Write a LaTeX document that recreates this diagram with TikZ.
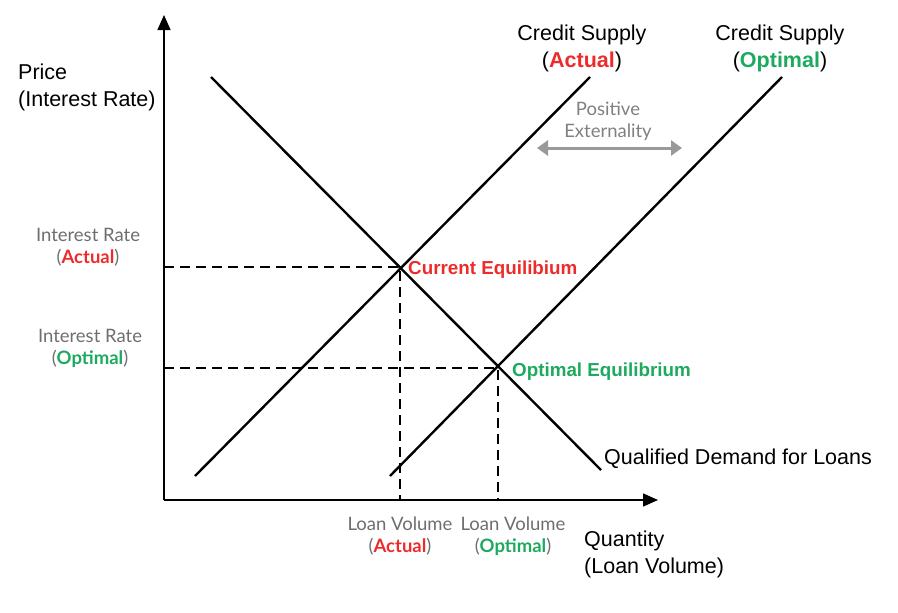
\documentclass[tikz,border=0pt]{standalone}
\usepackage{fontspec}
\setmainfont{Liberation Sans}
\newfontfamily\lato{Lato}
\usetikzlibrary{arrows.meta}
\definecolor{cred}{HTML}{EE2B2B}
\definecolor{cgreen}{HTML}{1DAA5F}
\definecolor{cgray}{HTML}{6E6E6E}
\tikzset{
 main/.style={font=\fontsize{21.5}{27}\selectfont, align=center, inner sep=0pt},
 small/.style={font=\lato\fontsize{18.5}{22}\selectfont, text=cgray, align=center, inner sep=0pt},
 eqlabel/.style={anchor=west, inner sep=0pt, font=\bfseries\fontsize{18.8}{20}\selectfont},
 curve/.style={line width=2.4pt, black},
 guide/.style={dash pattern=on 10pt off 6pt, line width=1.1pt},
 axis/.style={line width=1.6pt, -{Triangle[length=15pt,width=13pt]}},
}
\begin{document}
\begin{tikzpicture}[x=1pt,y=-1pt]
\useasboundingbox (0,0) rectangle (898,613);
\coordinate (O) at (164,500);
\coordinate (Ytop) at (164,15);
\coordinate (Xend) at (658,500);
\draw[axis] (O) -- (Ytop);
\draw[axis] (O) -- (Xend);
\coordinate (D1) at (211,77); \coordinate (D2) at (601,470);
\coordinate (A1) at (195,476); \coordinate (A2) at (590,77);
\coordinate (P1) at (390,476); \coordinate (P2) at (782,77);
\draw[curve] (D1) -- (D2);
\draw[curve] (A1) -- (A2);
\draw[curve] (P1) -- (P2);
\coordinate (CE) at (400,267);
\coordinate (OE) at (498,368);
\coordinate (CEy) at (164,267); \coordinate (CEx) at (400,500);
\coordinate (OEy) at (164,368); \coordinate (OEx) at (498,500);
\draw[guide] (CEy) -- (CE) -- (CEx);
\draw[guide] (OEy) -- (OE) -- (OEx);
\coordinate (E1) at (537,148); \coordinate (E2) at (682,148);
\draw[line width=3pt, color=black!40, {Triangle[length=11pt,width=15pt]}-{Triangle[length=11pt,width=15pt]}] (E1) -- (E2);
\node[small, text=black!50] (ext) at (608,121) {Positive\\Externality};
\node[main, anchor=west, align=left] (price) at (18,87) {Price\\(Interest Rate)};
\node[main] (csa) at (582,48) {Credit Supply\\(\textcolor{cred}{\textbf{Actual}})};
\node[main] (cso) at (780,48) {Credit Supply\\(\textcolor{cgreen}{\textbf{Optimal}})};
\node[small] (ira) at (88,247) {Interest Rate\\(\textcolor{cred}{\textbf{Actual}})};
\node[small] (iro) at (90,348) {Interest Rate\\(\textcolor{cgreen}{\textbf{Optimal}})};
\node[eqlabel, text=cred] (cel) at (408,270) {Current Equilibium};
\node[eqlabel, text=cgreen] (oel) at (512,372) {Optimal Equilibrium};
\node[main, anchor=west] (dem) at (604,459) {Qualified Demand for Loans};
\node[small] (lva) at (400,536) {Loan Volume\\(\textcolor{cred}{\textbf{Actual}})};
\node[small] (lvo) at (513,536) {Loan Volume\\(\textcolor{cgreen}{\textbf{Optimal}})};
\node[main, anchor=west, align=left] (qty) at (584,554) {Quantity\\(Loan Volume)};
\end{tikzpicture}
\end{document}
